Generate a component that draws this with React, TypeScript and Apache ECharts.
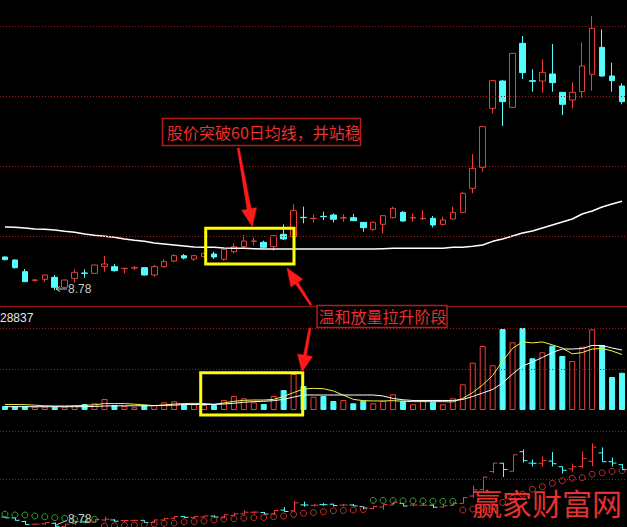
import React, { useEffect, useRef } from "react";
import * as echarts from "echarts";

// ---------- data ----------
const days = [
  "D1","D2","D3","D4","D5","D6","D7","D8","D9","D10",
  "D11","D12","D13","D14","D15","D16","D17","D18","D19","D20",
  "D21","D22","D23","D24","D25","D26","D27","D28","D29","D30",
  "D31","D32","D33","D34","D35","D36","D37","D38","D39","D40",
  "D41","D42","D43","D44","D45","D46","D47","D48","D49","D50",
  "D51","D52","D53","D54","D55","D56","D57","D58","D59","D60",
  "D61","D62","D63",
];

const opens = [
  9.77, 9.68, 9.33, 9.07, 9.10, 9.16, 8.86, 9.13, 9.29, 9.28,
  9.48, 9.48, 9.42, 9.44, 9.45, 9.23, 9.48, 9.65, 9.81, 9.71,
  9.78, 9.86, 9.70, 9.93, 10.08, 10.24, 10.21, 10.08, 10.45, 10.38,
  10.96, 10.92, 10.99, 11.03, 10.94, 10.95, 10.81, 10.60, 10.75, 10.95,
  11.11, 10.94, 10.92, 10.93, 10.75, 10.91, 11.11, 11.83, 12.46, 14.23,
  15.05, 14.26, 16.18, 15.06, 15.05, 15.26, 14.71, 14.48, 14.73, 15.25,
  16.06, 15.20, 14.90,
];
const closes = [
  9.69, 9.45, 9.03, 9.08, 9.23, 8.86, 9.08, 9.31, 9.28, 9.53,
  9.56, 9.36, 9.43, 9.45, 9.23, 9.48, 9.63, 9.81, 9.74, 9.81,
  9.88, 9.77, 10.00, 10.08, 10.25, 10.25, 10.06, 10.41, 10.31, 11.16,
  10.95, 10.93, 10.98, 10.90, 10.95, 10.86, 10.65, 10.81, 11.01, 11.23,
  10.85, 10.95, 10.93, 10.73, 10.88, 11.11, 11.68, 12.43, 13.68, 15.06,
  14.43, 15.88, 15.30, 15.04, 15.31, 15.00, 14.35, 14.71, 15.50, 16.63,
  15.20, 15.06, 14.43,
];
const lows = [
  9.67, 9.42, 9.02, 9.03, 9.03, 8.78, 8.84, 9.00, 9.15, 9.27,
  9.33, 9.33, 9.28, 9.38, 9.22, 9.18, 9.45, 9.61, 9.70, 9.65,
  9.77, 9.71, 9.66, 9.88, 10.03, 10.11, 10.03, 9.96, 10.28, 10.37,
  10.78, 10.81, 10.88, 10.81, 10.83, 10.85, 10.53, 10.56, 10.48, 10.93,
  10.83, 10.83, 10.88, 10.66, 10.71, 10.90, 11.10, 11.68, 12.33, 14.08,
  13.70, 14.25, 15.11, 14.73, 14.70, 14.73, 14.03, 14.23, 14.55, 14.76,
  15.18, 14.73, 14.35,
];
const highs = [
  9.79, 9.70, 9.41, 9.11, 9.24, 9.23, 9.09, 9.40, 9.40, 9.54,
  9.80, 9.56, 9.44, 9.50, 9.45, 9.53, 9.70, 9.86, 9.86, 9.82,
  9.89, 9.93, 10.01, 10.18, 10.43, 10.35, 10.26, 10.42, 10.75, 11.35,
  11.28, 11.05, 11.13, 11.08, 11.05, 11.06, 10.82, 10.83, 11.02, 11.28,
  11.15, 11.08, 11.18, 11.00, 10.98, 11.28, 11.73, 12.86, 13.69, 15.07,
  15.08, 15.89, 16.40, 15.40, 15.70, 16.16, 14.72, 15.01, 16.21, 17.00,
  16.60, 15.60, 14.98,
];
const ma60 = [
  10.67, 10.66, 10.64, 10.61, 10.60, 10.58, 10.54, 10.51, 10.46, 10.42,
  10.39, 10.36, 10.31, 10.27, 10.24, 10.19, 10.16, 10.13, 10.10, 10.07,
  10.06, 10.06, 10.04, 10.03, 10.03, 10.02, 10.01, 10.01, 10.01, 10.01,
  10.01, 10.01, 10.01, 10.01, 10.01, 10.01, 10.01, 10.01, 10.02, 10.03,
  10.03, 10.03, 10.03, 10.03, 10.03, 10.06, 10.06, 10.09, 10.13, 10.24,
  10.31, 10.40, 10.49, 10.55, 10.64, 10.73, 10.82, 10.91, 11.06, 11.15,
  11.27, 11.36, 11.44,
];
const volumes = [
  1240, 1240, 1240, 1020, 1020, 1020, 1020, 1460, 1860, 2080,
  3410, 1550, 1240, 840, 1550, 1550, 2390, 2700, 1860, 1770,
  1550, 1550, 3100, 4340, 3630, 2390, 1860, 4340, 6200, 11160,
  7440, 4120, 4340, 2790, 3100, 2080, 2880, 2080, 2790, 4870,
  2880, 1770, 2790, 2570, 1770, 3630, 7970, 14660, 19840, 13860,
  25110, 20990, 25420, 16030, 17890, 19930, 16740, 15190, 19620, 25020,
  20150, 10230, 11560,
];
const volMa5 = [
  1700, 1700, 1650, 1500, 1300, 1250, 1250, 1300, 1450, 1600,
  2000, 2000, 2000, 1800, 1600, 1350, 1550, 1850, 2000, 2050,
  2000, 1800, 2200, 2700, 3000, 3100, 3100, 3300, 4200, 5400,
  6500, 6700, 6600, 5900, 4600, 3300, 2900, 2800, 2800, 2900,
  2700, 2600, 2600, 2600, 2600, 2500, 3600, 5400, 7800, 10700,
  15200, 19100, 21100, 20800, 21100, 20200, 19200, 17400, 17800, 18900,
  19100, 18300, 17200,
];
const volMa10 = [
  1020, 1020, 1020, 1020, 1020, 1020, 1020, 1020, 1020, 1100,
  1240, 1300, 1300, 1300, 1300, 1350, 1450, 1500, 1700, 1700,
  1700, 1700, 1860, 2100, 2400, 2600, 2700, 2900, 3300, 4000,
  4650, 4650, 4650, 4650, 4650, 4650, 4650, 4650, 4340, 3570,
  3160, 2950, 2950, 2950, 2950, 2950, 3260, 4190, 5270, 6360,
  8370, 11160, 13640, 14880, 16280, 17830, 18910, 18910, 19070, 20000,
  20000, 19220, 18600,
];
const sarValues = [
  10.04, 9.97, 9.97, 9.87, 9.80, 9.71, 9.65, 9.58, 9.55, 9.55,
  8.89, 8.92, 8.96, 8.99, 9.02, 9.09, 9.16, 9.18, 9.31, 9.33,
  9.38, 9.48, 9.58, 9.60, 9.65, 9.71, 9.73, 9.80, 9.87, 10.04,
  10.14, 10.20, 10.29, 10.39, 10.42, 10.46, 10.50, 11.40, 11.40, 11.38,
  11.36, 11.35, 11.34, 11.32, 11.31, 11.30, 10.46, 10.55, 10.70, 10.85,
  11.20, 11.60, 12.00, 12.49, 12.75, 13.08, 13.33, 13.57, 13.63, 13.96,
  14.10, 14.25, 14.33,
];
const priceGridLevels = [10.4, 12.5, 14.6, 16.7];
const volumeGridLevels = [12710, 25420];
const lowerGridLevels = [13.47, 18.21];
const lowLabel = "8.78";
const volumeLabel = "28837";
const note1 = "股价突破60日均线，并站稳";
const note2 = "温和放量拉升阶段";
const watermark = "赢家财富网";

// ---------- styles ----------
const RED = "#ec3d38";
const CYAN = "#54fcfc";
const GREEN = "#3cc83c";
const GRIDRED = "#a01c1c";
const CJK = '"Noto Sans CJK SC", sans-serif';
const SANS = '"Liberation Sans", Arial, sans-serif';

export default function App() {
  const ref = useRef<HTMLDivElement>(null);

  useEffect(() => {
    if (!ref.current) return;
    const chart = echarts.init(ref.current, null, { renderer: "svg" });
    const isUp = (i: number) => closes[i] > opens[i];

    const candleData = opens.map((o, i) => [o, closes[i], lows[i], highs[i]]);
    const volData = volumes.map((v, i) => ({
      value: v,
      itemStyle: isUp(i)
        ? { color: "#000", borderColor: RED, borderWidth: 1 }
        : { color: CYAN, borderColor: CYAN, borderWidth: 1 },
    }));
    const ohlcData = opens.map((o, i) => [i, o, closes[i], lows[i], highs[i]]);
    const sarUp = sarValues.map((s, i) => (s <= closes[i] ? s : "-"));
    const sarDown = sarValues.map((s, i) => (s > closes[i] ? s : "-"));

    const gridLine = (levels: number[]) => ({
      silent: true,
      symbol: ["none", "none"],
      label: { show: false },
      lineStyle: { color: GRIDRED, type: [1, 2], width: 1 },
      data: levels.map((v) => ({ yAxis: v })),
    });

    const arrow = (pts: number[][]) => ({
      type: "polygon",
      shape: { points: pts },
      style: { fill: "#ff1a1a", stroke: "#ff1a1a", lineWidth: 0.5 },
      z: 60,
    });

    const option: any = {
      animation: false,
      backgroundColor: "#000",
      grid: [
        { left: 0, top: 0, width: 630, height: 306 },
        { left: 0, top: 306, width: 630, height: 104 },
        { left: 0, top: 416, width: 630, height: 120 },
      ],
      xAxis: [0, 1, 2].map((g) => ({
        type: "category",
        data: days,
        gridIndex: g,
        show: false,
        boundaryGap: true,
      })),
      yAxis: [
        { gridIndex: 0, min: 8.3, max: 17.48, show: false },
        { gridIndex: 1, min: 0, max: 32240, show: false },
        { gridIndex: 2, min: 7.91, max: 19.68, show: false },
      ],
      series: [
        {
          type: "line",
          xAxisIndex: 0,
          yAxisIndex: 0,
          data: ma60,
          symbol: "none",
          lineStyle: { color: "#ffffff", width: 1.5 },
          silent: true,
          markLine: gridLine(priceGridLevels),
        },
        {
          type: "candlestick",
          xAxisIndex: 0,
          yAxisIndex: 0,
          data: candleData,
          barWidth: 6,
          itemStyle: {
            color: "#000",
            color0: CYAN,
            borderColor: RED,
            borderColor0: CYAN,
            borderWidth: 1,
          },
          silent: true,
        },
        {
          type: "bar",
          xAxisIndex: 1,
          yAxisIndex: 1,
          data: volData,
          barWidth: 6,
          silent: true,
          markLine: gridLine(volumeGridLevels),
        },
        {
          type: "line",
          xAxisIndex: 1,
          yAxisIndex: 1,
          data: volMa5,
          symbol: "none",
          lineStyle: { color: "#f2f24a", width: 1 },
          silent: true,
        },
        {
          type: "line",
          xAxisIndex: 1,
          yAxisIndex: 1,
          data: volMa10,
          symbol: "none",
          lineStyle: { color: "#ffffff", width: 1 },
          silent: true,
        },
        {
          type: "custom",
          xAxisIndex: 2,
          yAxisIndex: 2,
          data: ohlcData,
          encode: { x: 0, y: [1, 2, 3, 4] },
          silent: true,
          markLine: gridLine(lowerGridLevels),
          renderItem: (params: any, api: any) => {
            const i = api.value(0);
            const o = api.value(1);
            const c = api.value(2);
            const pO = api.coord([i, o]);
            const pC = api.coord([i, c]);
            const pL = api.coord([i, api.value(3)]);
            const pH = api.coord([i, api.value(4)]);
            const x = Math.round(pO[0]) + 0.5;
            const color = c > o ? RED : CYAN;
            const st = { stroke: color, lineWidth: 1 };
            return {
              type: "group",
              children: [
                { type: "line", shape: { x1: x, y1: pH[1], x2: x, y2: pL[1] }, style: st },
                { type: "line", shape: { x1: x - 4, y1: pO[1], x2: x, y2: pO[1] }, style: st },
                { type: "line", shape: { x1: x, y1: pC[1], x2: x + 4, y2: pC[1] }, style: st },
              ],
            };
          },
        },
        {
          type: "scatter",
          xAxisIndex: 2,
          yAxisIndex: 2,
          data: sarUp,
          symbol: "circle",
          symbolSize: 6,
          itemStyle: { color: "rgba(0,0,0,0)", borderColor: RED, borderWidth: 1 },
          silent: true,
        },
        {
          type: "scatter",
          xAxisIndex: 2,
          yAxisIndex: 2,
          data: sarDown,
          symbol: "circle",
          symbolSize: 6,
          itemStyle: { color: "rgba(0,0,0,0)", borderColor: GREEN, borderWidth: 1 },
          silent: true,
        },
      ],
      graphic: [
        {
          type: "line",
          shape: { x1: 0, y1: 306.5, x2: 627, y2: 306.5 },
          style: { stroke: "#8c1212", lineWidth: 1.5 },
          z: 40,
        },
        {
          type: "text",
          x: 0,
          y: 317.5,
          style: { text: volumeLabel, fill: "#e6e6e6", font: `12px ${SANS}`, verticalAlign: "middle" },
          z: 40,
        },
        // low marker in price panel
        {
          type: "line",
          shape: { x1: 56, y1: 289, x2: 67, y2: 289 },
          style: { stroke: "#c8c8c8", lineWidth: 1 },
          z: 40,
        },
        {
          type: "polyline",
          shape: { points: [[60, 286.5], [56, 289], [60, 291.5]] },
          style: { stroke: "#c8c8c8", lineWidth: 1, fill: "none" },
          z: 40,
        },
        {
          type: "text",
          x: 68,
          y: 288.5,
          style: { text: lowLabel, fill: "#c8c8c8", font: `12px ${SANS}`, verticalAlign: "middle" },
          z: 40,
        },
        // low marker in lower panel
        {
          type: "line",
          shape: { x1: 56, y1: 525, x2: 67, y2: 520.5 },
          style: { stroke: "#c8c8c8", lineWidth: 1 },
          z: 40,
        },
        {
          type: "text",
          x: 68,
          y: 519,
          style: { text: lowLabel, fill: "#c8c8c8", font: `12px ${SANS}`, verticalAlign: "middle" },
          z: 40,
        },
        // yellow boxes
        {
          type: "rect",
          shape: { x: 205.7, y: 228.3, width: 88.3, height: 35.7 },
          style: { fill: "none", stroke: "#ffff00", lineWidth: 3 },
          z: 50,
        },
        {
          type: "rect",
          shape: { x: 200.7, y: 372.7, width: 102, height: 42.3 },
          style: { fill: "none", stroke: "#ffff00", lineWidth: 3 },
          z: 50,
        },
        // note 1
        {
          type: "rect",
          shape: { x: 162.5, y: 118.5, width: 198, height: 27 },
          style: { fill: "#000", stroke: "#b41c1c", lineWidth: 1.5 },
          z: 55,
        },
        {
          type: "text",
          x: 167,
          y: 132,
          style: { text: note1, fill: "#ea2f2f", font: `16px ${CJK}`, verticalAlign: "middle" },
          z: 56,
        },
        // note 2
        {
          type: "rect",
          shape: { x: 317, y: 305.5, width: 130, height: 22 },
          style: { fill: "#000", stroke: "#b41c1c", lineWidth: 1.5 },
          z: 55,
        },
        {
          type: "text",
          x: 318.5,
          y: 316,
          style: { text: note2, fill: "#ea2f2f", font: `16px ${CJK}`, verticalAlign: "middle" },
          z: 56,
        },
        // arrows
        arrow([[237.3, 148.5], [239.3, 148.1], [251.1, 208.6], [256.5, 207.7], [252.3, 226.7], [241.7, 210.3], [247.1, 209.4]]),
        arrow([[310.2, 305.5], [295.5, 283.9], [290.9, 286.9], [287, 268], [302.7, 279.3], [298.1, 282.3], [311.8, 304.5]]),
        arrow([[309, 327.8], [303.5, 355.0], [297.6, 354], [302, 372], [312.4, 356.6], [306.5, 355.6], [311, 328.2]]),
        // watermark
        {
          type: "text",
          x: 472,
          y: 502,
          style: { text: watermark, fill: "#e8302c", font: `30px ${CJK}`, verticalAlign: "middle" },
          z: 100,
        },
      ],
    };

    chart.setOption(option);
    return () => chart.dispose();
  }, []);

  return (
    <div
      style={{
        position: "fixed",
        left: 0,
        top: 0,
        width: 627,
        height: 527,
        overflow: "hidden",
        background: "#000",
      }}
    >
      <div ref={ref} style={{ width: 627, height: 540 }} />
    </div>
  );
}
